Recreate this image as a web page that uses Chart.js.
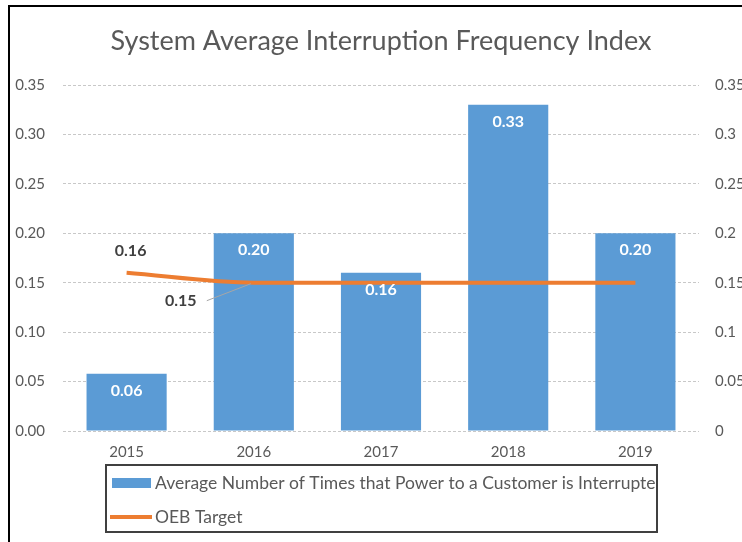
<!DOCTYPE html>
<html>
<head>
<meta charset="utf-8">
<script src="https://cdn.jsdelivr.net/npm/chart.js@4.4.1/dist/chart.umd.min.js"></script>
<style>
html, body { margin: 0; padding: 0; background: #fff; overflow: hidden; }
#wrap { width: 790px; height: 542px; }
</style>
</head>
<body>
<div id="wrap"><canvas id="myChart" width="790" height="542"></canvas></div>
<script>
// chart data
var years = ['2015', '2016', '2017', '2018', '2019'];
var avgInterruptions = [0.058, 0.20, 0.16, 0.33, 0.20];
var oebTarget = [0.16, 0.15, 0.15, 0.15, 0.15];
var barLabel = 'Average Number of Times that Power to a Customer is Interrupted';
var lineLabel = 'OEB Target';
var axisMin = 0, axisMax = 0.35, axisStep = 0.05;

var textGrey = '#595959';
Chart.defaults.font.family = 'Lato';

// outer frame like the pasted Excel chart
var framePlugin = {
    id: 'frame',
    beforeDraw: function(chart) {
        var c = chart.ctx;
        c.save();
        c.fillStyle = '#fff';
        c.fillRect(0, 0, chart.width, chart.height);
        c.strokeStyle = '#000';
        c.lineWidth = 2;
        c.strokeRect(9, 6, 900, 700);
        c.restore();
    }
};

// value labels on bars and on the target line
var labelPlugin = {
    id: 'valueLabels',
    afterDatasetsDraw: function(chart) {
        var c = chart.ctx;
        c.save();
        c.textAlign = 'center';
        c.textBaseline = 'middle';
        c.font = 'bold 16px Lato';

        var bars = chart.getDatasetMeta(0).data;
        c.fillStyle = '#fff';
        bars.forEach(function(el, i) {
            c.fillText(avgInterruptions[i].toFixed(2), el.x, el.y + 17);
        });

        var pts = chart.getDatasetMeta(1).data;
        c.fillStyle = '#404040';
        // first point: label above
        c.fillText(oebTarget[0].toFixed(2), pts[0].x + 4, pts[0].y - 22);
        // second point: label down-left with a leader line
        var p = pts[1];
        c.fillText(oebTarget[1].toFixed(2), p.x - 73, p.y + 18);
        c.strokeStyle = '#a6a6a6';
        c.lineWidth = 1;
        c.beginPath();
        c.moveTo(p.x - 47, p.y + 18);
        c.lineTo(p.x - 3, p.y + 1);
        c.stroke();
        c.restore();
    }
};

// boxed legend under the axis
var legendPlugin = {
    id: 'boxLegend',
    afterDraw: function(chart) {
        var c = chart.ctx;
        var ds = chart.data.datasets;
        c.save();
        c.strokeStyle = '#404040';
        c.lineWidth = 2;
        c.strokeRect(106, 465, 551, 67);
        c.beginPath();
        c.rect(107, 466, 549, 65);
        c.clip();

        c.fillStyle = ds[0].backgroundColor;
        c.fillRect(112, 478, 39, 10);
        c.strokeStyle = ds[1].borderColor;
        c.lineWidth = 4;
        c.beginPath();
        c.moveTo(110, 517);
        c.lineTo(152, 517);
        c.stroke();

        c.fillStyle = textGrey;
        c.font = '17.5px Lato';
        c.textBaseline = 'middle';
        c.textAlign = 'left';
        c.fillText(ds[0].label, 155, 483);
        c.fillText(ds[1].label, 155, 517);
        c.restore();
    }
};

var ctx = document.getElementById('myChart').getContext('2d');
var myChart = new Chart(ctx, {
    type: 'bar',
    data: {
        labels: years,
        datasets: [{
            type: 'bar',
            label: barLabel,
            data: avgInterruptions,
            backgroundColor: '#5B9BD5',
            categoryPercentage: 0.63,
            barPercentage: 1,
            yAxisID: 'y',
            order: 1
        }, {
            type: 'line',
            label: lineLabel,
            data: oebTarget,
            borderColor: '#ED7D31',
            borderWidth: 4,
            pointRadius: 0,
            cubicInterpolationMode: 'monotone',
            fill: false,
            yAxisID: 'y',
            order: 0
        }]
    },
    options: {
        responsive: false,
        animation: false,
        layout: { padding: { left: 0, right: 0, top: 0, bottom: 0 } },
        plugins: {
            legend: { display: false },
            tooltip: { enabled: false },
            title: {
                display: true,
                fullSize: false,
                text: 'System Average Interruption Frequency Index',
                color: textGrey,
                font: { size: 27, weight: 'normal' },
                padding: { top: 25, bottom: 27.6 }
            }
        },
        scales: {
            x: {
                grid: { display: false, drawTicks: false },
                border: { display: false },
                ticks: { color: textGrey, font: { size: 15 }, padding: 12 },
                afterFit: function(s) { s.height = 111; }
            },
            y: {
                position: 'left',
                min: axisMin,
                max: axisMax,
                ticks: {
                    stepSize: axisStep,
                    color: textGrey,
                    font: { size: 15 },
                    padding: 18,
                    callback: function(v) { return v.toFixed(2); }
                },
                grid: { color: '#c8c8c8', drawTicks: false },
                border: { display: false, dash: [3, 2] },
                afterFit: function(s) { s.width = 63; }
            },
            y1: {
                position: 'right',
                min: axisMin,
                max: axisMax,
                ticks: {
                    stepSize: axisStep,
                    color: textGrey,
                    font: { size: 15 },
                    padding: 16,
                    callback: function(v) { return String(+v.toFixed(2)); }
                },
                grid: { display: false, drawTicks: false },
                border: { display: false },
                afterFit: function(s) { s.width = 91; }
            }
        }
    },
    plugins: [framePlugin, labelPlugin, legendPlugin]
});
</script>
</body>
</html>
